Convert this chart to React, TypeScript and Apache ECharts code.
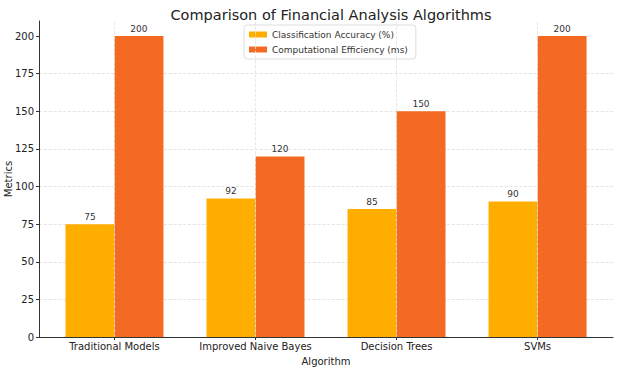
import React, { useEffect, useRef } from "react";
import * as echarts from "echarts";

const categories = ["Traditional Models", "Improved Naive Bayes", "Decision Trees", "SVMs"];
const accuracy = [75, 92, 85, 90];
const efficiency = [200, 120, 150, 200];
const yTicks = [0, 25, 50, 75, 100, 125, 150, 175, 200];
const seriesNames = ["Classification Accuracy (%)", "Computational Efficiency (ms)"];

const FONT = "DejaVu Sans";

export default function App() {
  const ref = useRef<HTMLDivElement>(null);
  useEffect(() => {
    if (!ref.current) return;
    const chart = echarts.init(ref.current, undefined, { renderer: "svg" });
    const idx = categories.map((_, i) => i);
    const labelStyle = {
      show: true,
      position: "top" as const,
      distance: 3,
      fontFamily: FONT,
      fontSize: 9,
      color: "#333",
    };
    chart.setOption({
      animation: false,
      backgroundColor: "#fff",
      textStyle: { fontFamily: FONT },
      title: {
        text: "Comparison of Financial Analysis Algorithms",
        left: 326,
        textAlign: "center",
        top: 2,
        textStyle: { fontFamily: FONT, fontSize: 14.5, fontWeight: "normal", color: "#222" },
      },
      legend: {
        orient: "vertical",
        left: 244,
        top: 25,
        itemWidth: 18,
        itemHeight: 6,
        itemGap: 6,
        padding: [5, 8, 5, 5],
        backgroundColor: "rgba(255,255,255,0.85)",
        borderColor: "#ddd",
        borderWidth: 1,
        borderRadius: 3,
        textStyle: { fontFamily: FONT, fontSize: 9, color: "#333" },
        data: seriesNames.map((n) => ({ name: n, icon: "rect" })),
      },
      grid: { left: 39, right: 7, top: 21, bottom: 33, outerBoundsMode: "none", containLabel: false },
      xAxis: {
        type: "value",
        min: -0.535,
        max: 3.535,
        name: "Algorithm",
        nameLocation: "middle",
        nameGap: 19,
        nameMoveOverlap: false,
        nameTextStyle: { fontFamily: FONT, fontSize: 10, color: "#222" },
        axisLine: { show: true, onZero: false, lineStyle: { color: "#333", width: 1 } },
        axisTick: { show: true, customValues: idx, length: 3, lineStyle: { color: "#333" } },
        axisLabel: {
          customValues: idx,
          fontFamily: FONT,
          fontSize: 10,
          color: "#222",
          margin: 4,
          formatter: (v: number) => categories[Math.round(v)] ?? "",
        },
        splitLine: { show: false },
      },
      yAxis: {
        type: "value",
        min: 0,
        max: 210,
        interval: 25,
        name: "Metrics",
        nameLocation: "middle",
        nameGap: 26,
        nameMoveOverlap: false,
        nameTextStyle: { fontFamily: FONT, fontSize: 10, color: "#222" },
        axisLine: { show: true, onZero: false, lineStyle: { color: "#333", width: 1 } },
        axisTick: { show: true, customValues: yTicks, length: 3, lineStyle: { color: "#333" } },
        axisLabel: {
          customValues: yTicks,
          fontFamily: FONT,
          fontSize: 10,
          color: "#222",
          margin: 5,
        },
        splitLine: {
          show: true,
          showMinLine: false,
          showMaxLine: false,
          lineStyle: { color: "#ddd", type: "dashed", width: 0.8 },
        },
      },
      series: [
        {
          type: "scatter",
          data: [],
          silent: true,
          z: 0,
          markLine: {
            silent: true,
            symbol: "none",
            label: { show: false },
            lineStyle: { color: "#e2e2e2", type: "dashed", width: 0.8 },
            data: idx.map((i) => ({ xAxis: i })),
          },
        },
        {
          name: seriesNames[0],
          type: "bar",
          data: accuracy.map((v, i) => [i, v]),
          barWidth: 49,
          barGap: "0%",
          itemStyle: { color: "#FFAE00" },
          label: labelStyle,
        },
        {
          name: seriesNames[1],
          type: "bar",
          data: efficiency.map((v, i) => [i, v]),
          barWidth: 49,
          barGap: "0%",
          itemStyle: { color: "#F46A22" },
          label: labelStyle,
        },
      ],
    });
    return () => chart.dispose();
  }, []);
  return (
    <div
      ref={ref}
      style={{ position: "absolute", left: 0, top: 0, width: 620, height: 370 }}
    />
  );
}
